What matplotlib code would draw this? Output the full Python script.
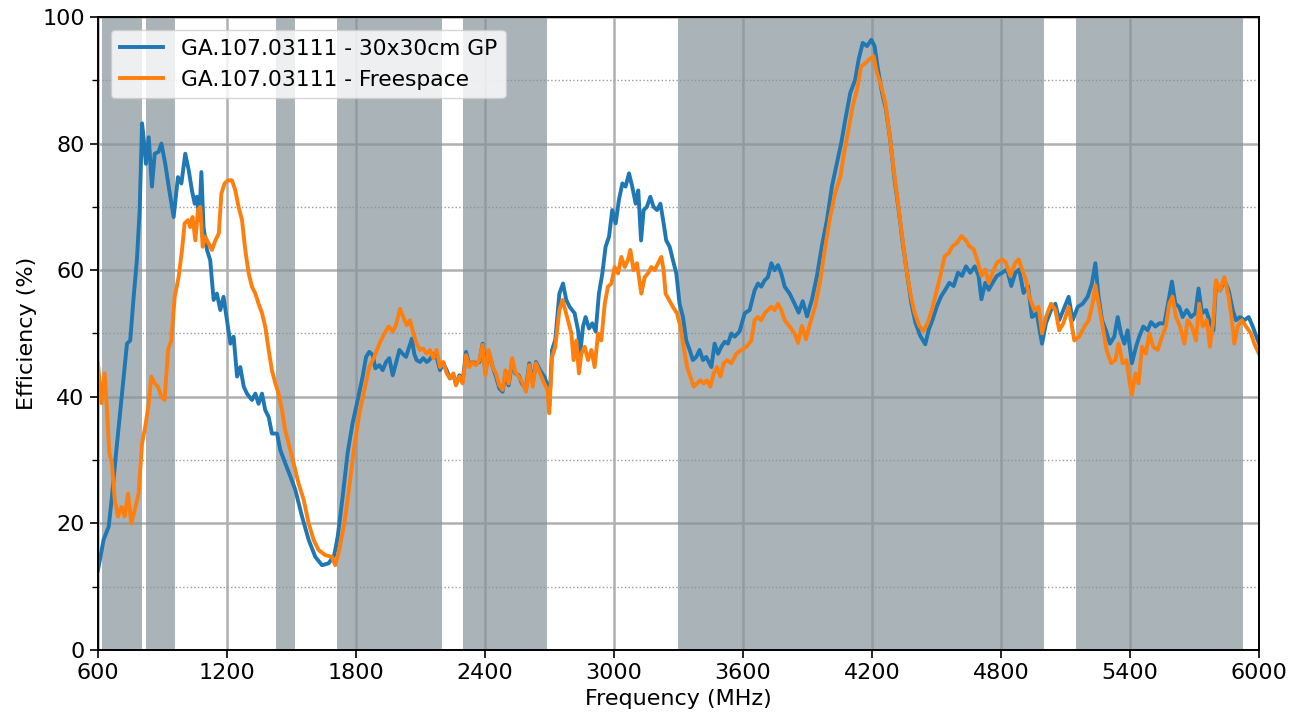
import numpy as np
import matplotlib
matplotlib.use("Agg")
import matplotlib.pyplot as plt
from matplotlib.ticker import MultipleLocator

# measured efficiency, 30x30cm ground plane
freq_gp = [600, 626, 650, 665, 681, 704, 735, 750, 766, 781, 794, 805, 812, 823, 836, 851, 864, 882, 895, 913,
           929, 952, 972, 988, 1006, 1022, 1037, 1050, 1060, 1071, 1081, 1091, 1107, 1122, 1138, 1153, 1169, 1184,
           1200, 1216, 1231, 1247, 1262, 1278, 1293, 1316, 1332, 1347, 1363, 1378, 1394, 1409, 1433, 1448, 1471,
           1495, 1518, 1549, 1580, 1611, 1642, 1673, 1699, 1715, 1738, 1761, 1784, 1808, 1831, 1847, 1862, 1878,
           1890, 1909, 1924, 1940, 1955, 1971, 1986, 2002, 2017, 2033, 2048, 2060, 2071, 2082, 2098, 2113, 2129,
           2141, 2160, 2175, 2191, 2206, 2222, 2237, 2253, 2265, 2281, 2296, 2312, 2327, 2343, 2358, 2374, 2389,
           2402, 2417, 2436, 2451, 2467, 2482, 2495, 2510, 2526, 2541, 2557, 2572, 2591, 2606, 2622, 2637, 2656,
           2676, 2691, 2699, 2712, 2727, 2746, 2763, 2778, 2794, 2817, 2833, 2843, 2856, 2868, 2884, 2899, 2915,
           2930, 2946, 2961, 2977, 2992, 3008, 3023, 3039, 3054, 3070, 3085, 3101, 3113, 3126, 3138, 3153, 3169,
           3184, 3200, 3216, 3231, 3243, 3259, 3274, 3290, 3305, 3321, 3336, 3352, 3367, 3383, 3398, 3414, 3429,
           3453, 3468, 3484, 3499, 3515, 3530, 3546, 3561, 3584, 3608, 3631, 3654, 3670, 3685, 3701, 3716, 3732,
           3747, 3763, 3778, 3794, 3817, 3840, 3859, 3878, 3898, 3921, 3944, 3967, 3991, 4014, 4037, 4057, 4076,
           4099, 4122, 4138, 4157, 4177, 4197, 4212, 4228, 4247, 4265, 4285, 4305, 4324, 4343, 4363, 4383, 4402,
           4425, 4448, 4464, 4482, 4502, 4522, 4541, 4560, 4580, 4600, 4619, 4637, 4657, 4678, 4696, 4709, 4727,
           4743, 4761, 4781, 4805, 4828, 4848, 4867, 4885, 4905, 4926, 4944, 4966, 4991, 5009, 5033, 5053, 5071,
           5090, 5115, 5133, 5157, 5180, 5203, 5223, 5239, 5254, 5270, 5288, 5307, 5327, 5343, 5358, 5374, 5389,
           5409, 5428, 5443, 5462, 5482, 5498, 5518, 5536, 5560, 5580, 5595, 5611, 5629, 5645, 5664, 5684, 5704,
           5719, 5735, 5754, 5769, 5788, 5800, 5819, 5839, 5859, 5878, 5893, 5912, 5932, 5952, 5971, 6000]
eff_gp = [12.6, 17.4, 19.5, 24.2, 30.0, 37.9, 48.4, 48.9, 55.8, 61.6, 69.5, 83.2, 81.0, 76.8, 81.0, 73.2, 78.4, 78.7,
          80.0, 76.8, 73.2, 68.4, 74.7, 73.7, 78.4, 75.8, 72.6, 70.5, 71.6, 67.9, 75.5, 66.8, 63.2, 61.6, 55.3, 56.3,
          53.7, 55.8, 52.1, 48.4, 49.5, 43.2, 44.7, 41.6, 40.5, 39.5, 40.5, 38.9, 40.5, 37.9, 36.8, 34.2, 34.2, 31.6,
          29.5, 27.4, 25.3, 21.1, 17.4, 14.7, 13.4, 13.7, 15.0, 17.9, 24.2, 31.1, 35.8, 39.5, 43.2, 46.3, 47.1, 46.6,
          44.5, 45.0, 44.2, 45.5, 46.1, 43.4, 45.3, 47.4, 46.8, 46.3, 47.9, 49.2, 46.8, 45.8, 45.5, 46.1, 45.5, 45.8,
          46.8, 46.3, 44.2, 45.3, 44.2, 42.9, 43.4, 42.1, 43.4, 42.4, 47.1, 45.0, 45.5, 45.3, 45.5, 48.4, 43.9, 47.1,
          44.7, 43.2, 41.3, 40.8, 43.7, 41.8, 45.5, 43.7, 43.4, 42.1, 41.3, 45.3, 42.1, 45.5, 44.2, 43.2, 41.8, 38.5,
          47.4, 49.0, 56.3, 57.9, 55.3, 54.2, 53.2, 50.5, 46.8, 51.1, 52.6, 50.8, 51.6, 50.3, 56.3, 59.5, 63.7, 65.3,
          69.5, 67.4, 71.1, 73.7, 73.2, 75.3, 73.2, 70.5, 72.6, 64.7, 69.5, 70.0, 71.6, 70.0, 69.5, 70.5, 67.4, 64.7,
          63.7, 61.6, 59.5, 54.7, 52.6, 48.9, 47.4, 45.8, 46.3, 47.4, 45.8, 46.3, 44.7, 48.4, 46.8, 47.9, 48.7, 48.4,
          50.0, 49.5, 50.3, 53.2, 53.7, 56.8, 57.9, 57.4, 58.4, 58.9, 61.1, 60.0, 60.8, 59.5, 57.4, 56.3, 54.7, 53.3,
          55.1, 52.7, 55.4, 59.1, 63.8, 68.0, 73.3, 76.9, 80.1, 83.8, 88.0, 90.1, 93.3, 95.9, 95.4, 96.4, 95.4, 91.7,
          88.0, 85.4, 80.6, 74.3, 69.6, 64.3, 59.6, 54.8, 51.7, 49.6, 48.3, 50.6, 52.2, 54.3, 55.9, 56.9, 58.0, 57.5,
          59.6, 59.1, 60.6, 59.6, 60.6, 59.1, 55.4, 58.0, 56.9, 58.0, 59.1, 59.6, 60.1, 57.5, 59.6, 60.1, 56.4, 57.5,
          52.6, 53.2, 48.4, 51.6, 53.7, 54.7, 52.1, 53.7, 55.8, 52.1, 54.2, 54.7, 55.8, 57.9, 61.1, 55.8, 52.1, 50.5,
          48.4, 49.5, 52.6, 50.0, 48.4, 50.5, 45.3, 47.9, 49.5, 51.1, 50.5, 51.8, 51.1, 51.6, 51.6, 55.3, 58.2, 54.7,
          54.2, 52.6, 53.7, 52.6, 53.2, 57.1, 53.2, 53.7, 52.1, 50.5, 57.9, 56.8, 58.4, 56.8, 53.7, 52.1, 52.6, 52.1,
          52.6, 51.1, 48.4]

# measured efficiency, free space
freq_fs = [600, 616, 631, 642, 653, 665, 678, 693, 709, 724, 740, 755, 771, 789, 805, 820, 836, 848, 864, 879,
           895, 910, 926, 941, 957, 975, 991, 1003, 1019, 1029, 1040, 1053, 1065, 1076, 1087, 1099, 1115, 1130,
           1146, 1162, 1174, 1189, 1205, 1223, 1239, 1254, 1270, 1285, 1301, 1316, 1332, 1347, 1363, 1378, 1394,
           1409, 1425, 1440, 1456, 1471, 1487, 1510, 1533, 1557, 1580, 1603, 1626, 1657, 1688, 1704, 1722, 1746,
           1769, 1792, 1816, 1839, 1862, 1885, 1909, 1932, 1952, 1971, 1986, 2005, 2020, 2036, 2051, 2067, 2082,
           2098, 2113, 2129, 2144, 2160, 2175, 2191, 2206, 2222, 2237, 2253, 2265, 2281, 2296, 2312, 2327, 2343,
           2358, 2374, 2389, 2402, 2417, 2436, 2451, 2467, 2482, 2495, 2510, 2526, 2541, 2557, 2572, 2591, 2606,
           2622, 2637, 2656, 2676, 2691, 2699, 2712, 2727, 2746, 2761, 2786, 2802, 2812, 2825, 2837, 2848, 2864,
           2879, 2895, 2910, 2926, 2941, 2957, 2972, 2988, 3003, 3019, 3034, 3050, 3065, 3076, 3091, 3107, 3127,
           3143, 3158, 3174, 3189, 3205, 3220, 3231, 3240, 3256, 3274, 3293, 3309, 3324, 3340, 3355, 3371, 3386,
           3402, 3417, 3433, 3448, 3464, 3479, 3495, 3510, 3526, 3546, 3569, 3592, 3616, 3639, 3654, 3670, 3685,
           3701, 3716, 3732, 3747, 3763, 3778, 3794, 3817, 3840, 3856, 3874, 3893, 3913, 3936, 3960, 3983, 4006,
           4029, 4053, 4073, 4091, 4110, 4130, 4150, 4169, 4188, 4208, 4223, 4243, 4262, 4281, 4301, 4321, 4340,
           4358, 4378, 4398, 4420, 4440, 4460, 4479, 4498, 4518, 4538, 4557, 4575, 4595, 4616, 4634, 4653, 4673,
           4693, 4709, 4727, 4743, 4761, 4781, 4805, 4823, 4843, 4867, 4882, 4898, 4916, 4932, 4955, 4975, 4991,
           5009, 5033, 5053, 5071, 5090, 5115, 5141, 5164, 5188, 5208, 5226, 5239, 5254, 5273, 5291, 5312, 5332,
           5347, 5366, 5384, 5397, 5409, 5425, 5440, 5456, 5474, 5490, 5508, 5529, 5549, 5567, 5583, 5598, 5614,
           5633, 5653, 5668, 5688, 5707, 5722, 5738, 5757, 5772, 5788, 5800, 5819, 5839, 5859, 5874, 5885, 5901,
           5921, 5940, 5963, 5978, 6000]
eff_fs = [45.3, 39.0, 43.7, 37.9, 31.1, 29.5, 23.7, 21.1, 22.6, 21.1, 24.7, 20.0, 22.1, 24.7, 32.6, 35.3, 38.9, 43.2,
          42.1, 41.6, 40.0, 39.5, 47.4, 48.9, 55.8, 58.9, 63.2, 67.4, 67.9, 66.8, 68.4, 64.7, 69.5, 70.0, 63.7, 65.3,
          64.2, 63.2, 64.7, 65.8, 72.1, 73.7, 74.2, 74.2, 72.6, 70.0, 67.9, 63.2, 59.5, 57.4, 56.3, 54.7, 53.2, 51.1,
          47.4, 44.2, 42.1, 40.5, 37.9, 34.7, 32.6, 29.5, 26.3, 23.7, 20.0, 17.4, 15.8, 15.0, 14.7, 13.4, 15.8, 20.0,
          25.8, 32.1, 37.4, 41.1, 44.7, 46.3, 48.4, 50.0, 51.1, 50.3, 51.3, 53.9, 52.6, 51.3, 52.1, 50.0, 48.4, 47.4,
          47.6, 46.8, 47.4, 46.1, 47.4, 44.7, 45.5, 43.7, 42.9, 43.7, 41.8, 43.2, 42.1, 46.6, 44.7, 45.5, 45.0, 45.8,
          48.2, 43.4, 47.4, 44.7, 43.7, 41.8, 41.1, 44.2, 42.1, 46.1, 43.9, 43.2, 42.4, 40.8, 45.0, 41.6, 45.3, 43.7,
          42.1, 41.1, 37.4, 46.3, 47.9, 53.7, 55.3, 52.1, 50.0, 45.8, 48.9, 43.7, 46.8, 47.9, 45.8, 47.4, 44.7, 50.0,
          48.9, 54.7, 57.4, 57.9, 60.5, 59.5, 62.1, 60.5, 61.6, 63.2, 60.0, 61.1, 56.3, 58.9, 59.5, 60.5, 60.0, 61.1,
          62.1, 60.0, 56.3, 55.3, 54.2, 53.2, 51.1, 47.9, 44.7, 43.2, 41.6, 42.1, 42.6, 42.1, 42.6, 41.6, 43.7, 44.7,
          43.2, 45.3, 45.8, 45.3, 46.8, 47.4, 47.9, 48.9, 52.1, 52.6, 52.1, 53.2, 53.7, 54.2, 53.7, 54.7, 53.7, 52.1,
          51.1, 50.0, 48.5, 51.2, 49.1, 51.7, 54.3, 58.5, 63.8, 68.5, 72.2, 74.8, 79.1, 82.2, 85.9, 88.5, 92.2, 92.7,
          93.3, 93.8, 91.2, 89.1, 86.4, 81.7, 75.9, 70.6, 65.4, 60.6, 56.4, 53.3, 51.2, 50.4, 51.7, 53.8, 56.4, 59.1,
          62.2, 62.7, 63.8, 64.3, 65.4, 64.8, 63.8, 63.3, 61.2, 59.1, 60.1, 58.0, 59.6, 61.2, 61.7, 61.2, 59.1, 61.2,
          61.7, 60.1, 58.5, 55.8, 53.7, 54.2, 50.0, 52.6, 54.7, 53.7, 50.5, 51.6, 54.2, 48.9, 49.5, 51.1, 52.1, 54.7,
          57.6, 54.7, 51.1, 47.4, 45.3, 45.8, 48.4, 45.3, 45.8, 42.6, 40.3, 43.7, 42.1, 47.9, 46.8, 50.0, 47.9, 47.4,
          49.5, 51.1, 54.7, 55.8, 52.6, 51.1, 48.4, 52.1, 51.1, 48.9, 54.7, 51.1, 52.1, 47.9, 52.1, 58.4, 56.8, 58.9,
          55.8, 52.1, 48.4, 51.1, 52.1, 51.1, 50.0, 48.4, 46.8]

# cellular / wifi bands (MHz)
bands = [(617, 805), (824, 960), (1427, 1518), (1710, 2200), (2300, 2690), (3300, 5000), (5150, 5925)]

fig = plt.figure(figsize=(13.01, 7.22), dpi=100)
ax = fig.add_axes([0.0753, 0.0997, 0.8924, 0.8768])

for lo, hi in bands:
    ax.axvspan(lo, hi, color='#86939a', alpha=0.7, lw=0, zorder=1.5)

ax.plot(freq_gp, eff_gp, color='#1f77b4', lw=2.8, label='GA.107.03111 - 30x30cm GP', zorder=2)
ax.plot(freq_fs, eff_fs, color='#ff7f0e', lw=2.8, label='GA.107.03111 - Freespace', zorder=2.1)

ax.set_xlim(600, 6000)
ax.set_ylim(0, 100)
ax.set_xticks(np.arange(600, 6001, 600))
ax.yaxis.set_major_locator(MultipleLocator(20))
ax.yaxis.set_minor_locator(MultipleLocator(10))
ax.grid(which='major', color='#b0b0b0', lw=1.8, zorder=1)
ax.grid(which='minor', axis='y', color='#999999', ls=':', lw=1.0, zorder=1)
ax.set_axisbelow(True)
ax.tick_params(labelsize=16, length=6, width=1.2)
ax.tick_params(which='minor', length=4, width=1.0)
for s in ax.spines.values():
    s.set_linewidth(1.4)

ax.set_xlabel('Frequency (MHz)', fontsize=16)
ax.set_ylabel('Efficiency (%)', fontsize=16)
ax.legend(loc='upper left', fontsize=15.7, framealpha=0.8, borderaxespad=0.6)

fig.savefig('out.png', dpi=100)
